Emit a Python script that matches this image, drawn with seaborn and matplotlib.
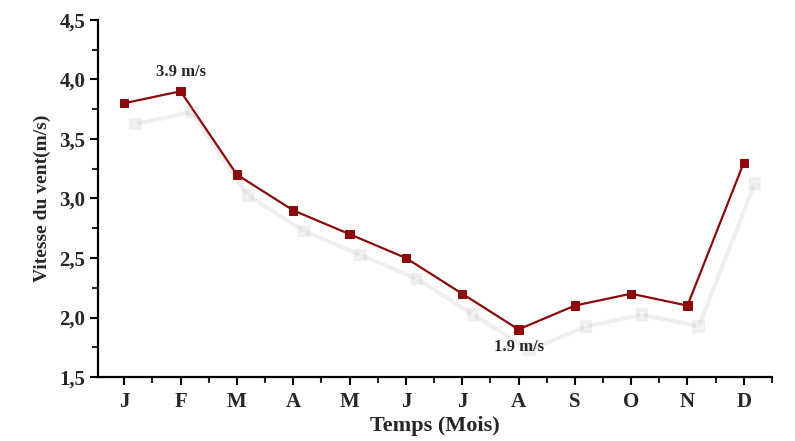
import numpy as np
import pandas as pd
import matplotlib
matplotlib.use("Agg")
import matplotlib.pyplot as plt
import matplotlib.patheffects as pe
from matplotlib.ticker import MultipleLocator, FuncFormatter
import seaborn as sns

months = ['J', 'F', 'M', 'A', 'M', 'J', 'J', 'A', 'S', 'O', 'N', 'D']
wind_speed = [3.8, 3.9, 3.2, 2.9, 2.7, 2.5, 2.2, 1.9, 2.1, 2.2, 2.1, 3.3]

df = pd.DataFrame({'month_idx': np.arange(len(months)), 'speed': wind_speed})

sns.set_style("ticks")
plt.rcParams['font.family'] = ['Liberation Serif', 'DejaVu Serif']
plt.rcParams['font.weight'] = 'bold'

fig, ax = plt.subplots(figsize=(7.95, 4.41), dpi=100)
fig.subplots_adjust(left=0.123, right=0.971, top=0.955, bottom=0.145)

color = '#8b0a0a'
sns.lineplot(data=df, x='month_idx', y='speed', ax=ax, color=color,
             marker='s', markersize=6, markeredgecolor=color, linewidth=1.6,
             path_effects=[pe.SimpleLineShadow(offset=(8, -15), shadow_color='#9a9a9a',
                                               alpha=0.15, linewidth=3),
                           pe.Normal()])

ax.set_xlim(-0.47, 11.5)
ax.set_ylim(1.5, 4.5)
ax.set_xticks(np.arange(len(months)))
ax.set_xticklabels(months)
ax.xaxis.set_minor_locator(MultipleLocator(0.5))
ax.yaxis.set_major_locator(MultipleLocator(0.5))
ax.yaxis.set_minor_locator(MultipleLocator(0.25))
ax.yaxis.set_major_formatter(FuncFormatter(lambda v, p: f"{v:.1f}".replace('.', ',')))

ax.tick_params(axis='both', which='major', length=6, width=1.5,
               direction='out', color='black')
ax.tick_params(axis='x', which='major', labelsize=15, pad=5)
ax.tick_params(axis='y', which='major', labelsize=15, pad=3)
ax.tick_params(axis='both', which='minor', length=4, width=1.5, direction='out')
for lab in ax.get_xticklabels() + ax.get_yticklabels():
    lab.set_fontweight('bold')

sns.despine(ax=ax)
for side in ['left', 'bottom']:
    ax.spines[side].set_linewidth(1.6)
    ax.spines[side].set_color('black')

ax.set_xlabel('Temps (Mois)', fontsize=16, fontweight='bold', labelpad=3)
ax.set_ylabel('Vitesse du vent(m/s)', fontsize=14, fontweight='bold', labelpad=6)

ax.annotate('3.9 m/s', xy=(1, wind_speed[1]), xytext=(0, 8), textcoords='offset points',
            ha='center', va='bottom', fontsize=12, fontweight='bold')
ax.annotate('1.9 m/s', xy=(7, wind_speed[7]), xytext=(0, -7), textcoords='offset points',
            ha='center', va='top', fontsize=12, fontweight='bold')

fig.savefig('out.png', dpi=100)
